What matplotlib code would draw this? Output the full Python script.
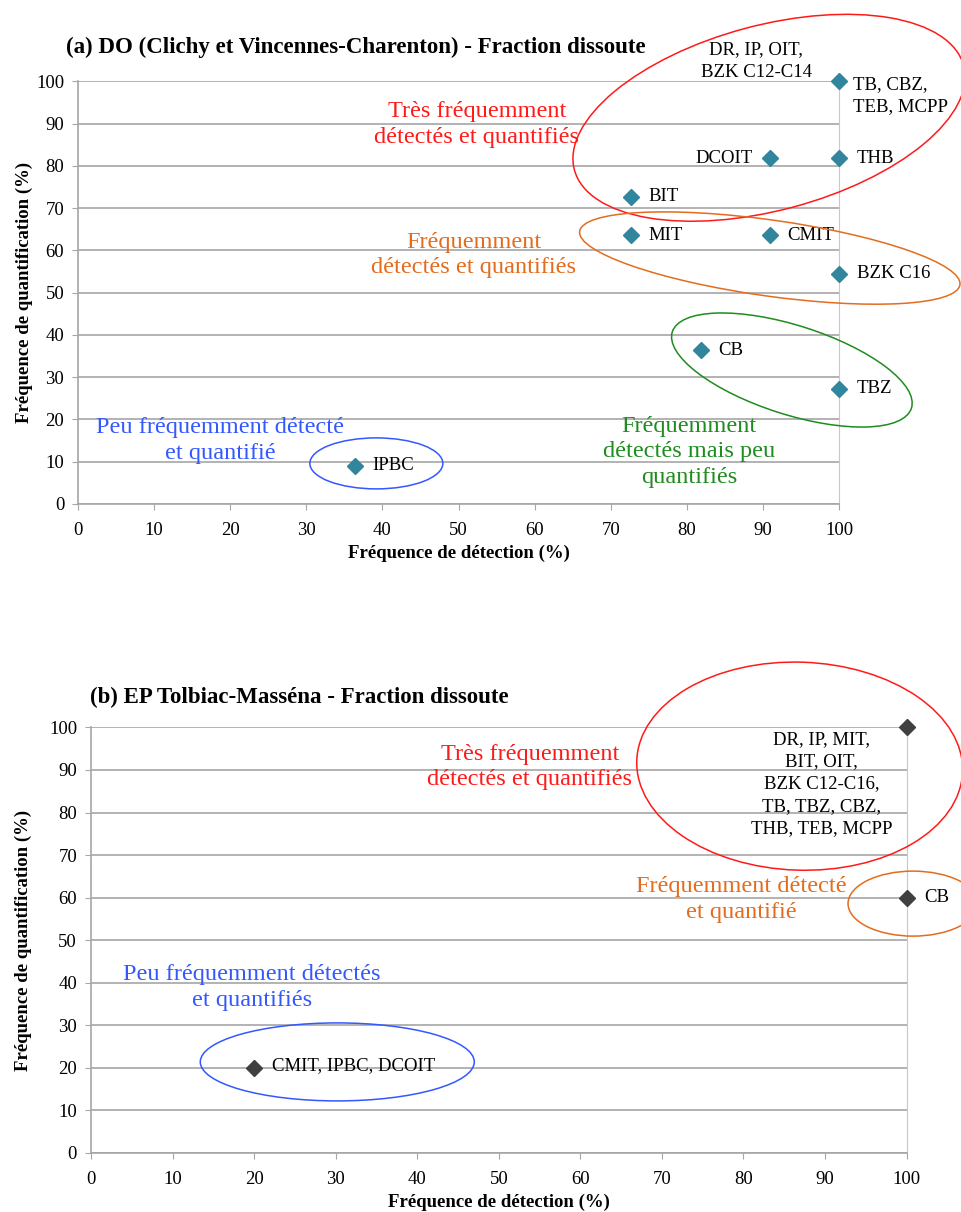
import matplotlib
matplotlib.use('Agg')
import matplotlib.pyplot as plt
from matplotlib.patches import Ellipse
from matplotlib.transforms import IdentityTransform

plt.rcParams['font.family'] = ['Liberation Serif', 'DejaVu Serif']

# (a) DO Clichy / Vincennes-Charenton
det_a = [100, 90.9, 100, 72.7, 72.7, 90.9, 100, 81.8, 100, 36.4]
quant_a = [100, 81.8, 81.8, 72.7, 63.6, 63.6, 54.5, 36.4, 27.3, 9.1]
names_a = ['', 'DCOIT', 'THB', 'BIT', 'MIT', 'CMIT', 'BZK C16', 'CB', 'TBZ', 'IPBC']

# (b) EP Tolbiac-Masséna
det_b = [100, 100, 20]
quant_b = [100, 60, 20]
names_b = ['', 'CB', 'CMIT, IPBC, DCOIT']

ticks = list(range(0, 101, 10))

RED = '#FF1A1A'
ORANGE = '#E36C1E'
GREEN = '#1E8C1E'
BLUE = '#3358FF'
GRID = '#A6A6A6'


def style_axes(ax, ylabelpad):
    ax.set_xlim(0, 100)
    ax.set_ylim(0, 100)
    ax.set_xticks(ticks)
    ax.set_yticks(ticks)
    ax.tick_params(labelsize=13.5, colors=GRID, labelcolor='black', length=4)
    ax.tick_params(axis='x', pad=9)
    ax.tick_params(axis='y', pad=6)
    ax.grid(axis='y', color=GRID, linewidth=1.2)
    ax.set_axisbelow(True)
    ax.spines['top'].set_visible(False)
    for side in ['left', 'bottom']:
        ax.spines[side].set_color(GRID)
        ax.spines[side].set_linewidth(1.2)
    ax.spines['right'].set_color('#C8C8C8')
    ax.set_xlabel('Fréquence de détection (%)', fontsize=13.5, fontweight='bold', labelpad=4)
    ax.set_ylabel('Fréquence de quantification (%)', fontsize=13.5, fontweight='bold',
                  labelpad=ylabelpad)


def ring(ax, xc, yc, w, h, ang, color):
    # ring sized in pixels around a data-space centre
    cx, cy = ax.transData.transform((xc, yc))
    e = Ellipse((cx, cy), w, h, angle=ang, transform=IdentityTransform(),
                fill=False, edgecolor=color, linewidth=1.1, zorder=4)
    fig.add_artist(e)


def group_text(ax, x, y, s, color):
    ax.text(x, y, s, color=color, fontsize=17.5, ha='center', va='center',
            linespacing=1.3, zorder=5)


fig = plt.figure(figsize=(9.61, 12.12), dpi=100)

# ---- panel (a)
ax1 = fig.add_axes([0.0812, 0.5842, 0.7919, 0.3486])
style_axes(ax1, 2)
ax1.plot(det_a, quant_a, 'D', color='#31859C', markersize=8.5, zorder=6, clip_on=False)
for x, y, n in zip(det_a, quant_a, names_a):
    if not n:
        continue
    if n == 'DCOIT':
        ax1.text(x - 2.3, y, n, fontsize=13.5, ha='right', va='center', zorder=6)
    else:
        ax1.text(x + 2.3, y, n, fontsize=13.5, ha='left', va='center', zorder=6)
ax1.text(89.1, 104.8, 'DR, IP, OIT,\nBZK C12-C14', fontsize=13.5, ha='center', va='center',
         linespacing=1.4, clip_on=False)
ax1.text(101.8, 96.6, 'TB, CBZ,\nTEB, MCPP', fontsize=13.5, ha='left', va='center',
         linespacing=1.4, clip_on=False)
group_text(ax1, 52.4, 89.9, 'Très fréquemment\ndétectés et quantifiés', RED)
group_text(ax1, 52.0, 58.9, 'Fréquemment\ndétectés et quantifiés', ORANGE)
group_text(ax1, 80.3, 12.3, 'Fréquemment\ndétectés mais peu\nquantifiés', GREEN)
group_text(ax1, 18.7, 15.1, 'Peu fréquemment détecté\net quantifié', BLUE)
fig.text(66 / 961, 1 - 47 / 1212, '(a) DO (Clichy et Vincennes-Charenton) - Fraction dissoute',
         fontsize=16.5, fontweight='bold', ha='left', va='center')

# ---- panel (b)
ax2 = fig.add_axes([0.0947, 0.0487, 0.8486, 0.3511])
style_axes(ax2, 12)
ax2.plot(det_b, quant_b, 'D', color='#404040', markersize=8.5, zorder=6, clip_on=False)
for x, y, n in zip(det_b, quant_b, names_b):
    if n:
        ax2.text(x + 2.2, y + (0.5 if x < 50 else 0), n, fontsize=13.5, ha='left', va='center',
                 zorder=6, clip_on=False)
ax2.text(89.6, 86.7, 'DR, IP, MIT,\nBIT, OIT,\nBZK C12-C16,\nTB, TBZ, CBZ,\nTHB, TEB, MCPP',
         fontsize=13.5, ha='center', va='center', linespacing=1.4, zorder=6)
group_text(ax2, 53.8, 90.7, 'Très fréquemment\ndétectés et quantifiés', RED)
group_text(ax2, 79.8, 59.5, 'Fréquemment détecté\net quantifié', ORANGE)
group_text(ax2, 19.7, 38.8, 'Peu fréquemment détectés\net quantifiés', BLUE)
fig.text(90 / 961, 1 - 697 / 1212, '(b) EP Tolbiac-Masséna - Fraction dissoute',
         fontsize=16.5, fontweight='bold', ha='left', va='center')

ring(ax1, 90.8, 91.4, 403, 185, 15, RED)
ring(ax1, 90.9, 58.2, 384, 76, -8, ORANGE)
ring(ax1, 93.8, 31.7, 251, 89, -17.7, GREEN)
ring(ax1, 39.2, 9.6, 133, 51, 0, BLUE)

ring(ax2, 86.9, 90.9, 326, 208, -2, RED)
ring(ax2, 100.8, 58.6, 130, 65, 0, ORANGE)
ring(ax2, 30.2, 21.4, 274, 78, 0, BLUE)

fig.savefig('out.png', dpi=100)
